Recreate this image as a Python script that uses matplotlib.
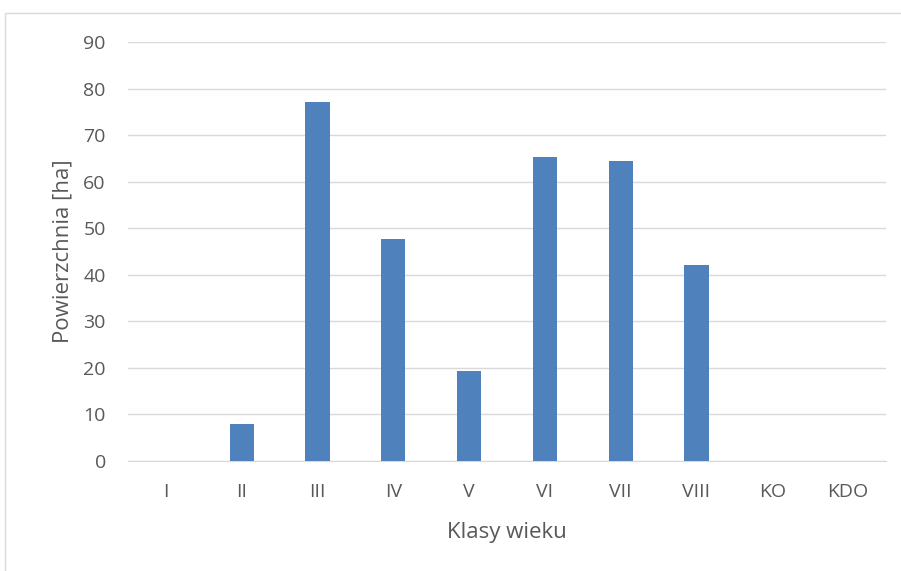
import matplotlib
matplotlib.use("Agg")
import matplotlib.pyplot as plt
from matplotlib.patches import Rectangle

categories = ["I", "II", "III", "IV", "V", "VI", "VII", "VIII", "KO", "KDO"]
values = [0, 8.0, 77.1, 47.6, 19.4, 65.4, 64.4, 42.2, 0, 0]
yticks = [0, 10, 20, 30, 40, 50, 60, 70, 80, 90]

plt.rcParams['font.family'] = ['Open Sans', 'DejaVu Sans']
text_color = "#595959"
grid_color = "#D9D9D9"

fig = plt.figure(figsize=(9.01, 5.71), dpi=100)
W, H = 901, 571
ax = fig.add_axes([128 / W, 1 - 461 / H, (886 - 128) / W, (461 - 42) / H])

x = list(range(len(categories)))
ax.bar(x, values, width=0.32, color="#4F81BD", zorder=3)
ax.set_xlim(-0.5, len(categories) - 0.5)
ax.set_ylim(0, 90)
ax.set_yticks(yticks)
ax.set_xticks(x)
ax.set_xticklabels(categories)
ax.yaxis.grid(True, color=grid_color, linewidth=1.0, zorder=0)
for s in ["top", "right", "left"]:
    ax.spines[s].set_visible(False)
ax.spines["bottom"].set_color(grid_color)
ax.tick_params(axis="both", length=0, labelsize=14, colors=text_color)
ax.tick_params(axis="y", pad=16)
ax.tick_params(axis="x", pad=16)
ax.set_xlabel("Klasy wieku", fontsize=16, color=text_color, labelpad=15)
ax.set_ylabel("Powierzchnia [ha]", fontsize=16, color=text_color, labelpad=7)

fig.patches.append(Rectangle((5 / W, -0.1), 1.2, 1 - 13 / H + 0.1,
                             transform=fig.transFigure, fill=False,
                             edgecolor="#D9D9D9", linewidth=1.0))

fig.savefig("out.png", dpi=100)
